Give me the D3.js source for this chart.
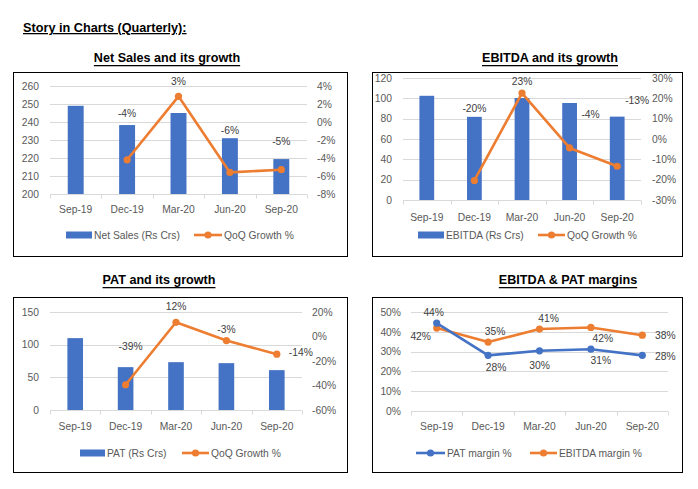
<!DOCTYPE html>
<html><head><meta charset="utf-8">
<script src="https://cdn.jsdelivr.net/npm/d3@7"></script>
<style>
html,body{margin:0;padding:0;background:#fff;}
svg{display:block;font-family:"Liberation Sans",Arial,sans-serif;}
</style></head>
<body>
<svg id="chart" width="698" height="489"></svg>
<script>
// ---------- DATA ----------
const quarters = ["Sep-19","Dec-19","Mar-20","Jun-20","Sep-20"];
const netSales = [249, 238.3, 245, 231, 219.4];
const netSalesGrowth = [null, -4.2, 2.85, -5.6, -5.3];
const ebitda = [102.5, 81.8, 100.3, 95.4, 82];
const ebitdaGrowth = [null, -20.4, 22.6, -4.4, -13.4];
const pat = [110, 65.6, 73.2, 71.7, 61];
const patGrowth = [null, -39.4, 11.6, -3.3, -14.4];
const patMargin = [44.4, 28.1, 30.4, 31.2, 28.1];
const ebitdaMargin = [41.9, 34.8, 41.4, 42.2, 38.3];
const netSalesTicks = [200,210,220,230,240,250,260];
const netGrowthTicks = [-8,-6,-4,-2,0,2,4];
const ebitdaTicks = [0,20,40,60,80,100,120];
const ebitdaGrowthTicks = [-30,-20,-10,0,10,20,30];
const patTicks = [0,50,100,150];
const patGrowthTicks = [-60,-40,-20,0,20];
const marginTicks = [0,10,20,30,40,50];

const BLUE = "#4472C4", ORANGE = "#ED7D31", GRID = "#D9D9D9", TICKC = "#595959", LBL = "#404040";
const FS = 10.3;
const svg = d3.select("#chart");

// page title
const title = svg.append("text").attr("x",23).attr("y",32).attr("font-size",12.7).attr("font-weight","bold")
  .attr("fill","#000").attr("text-decoration","underline").text("Story in Charts (Quarterly):");

function panelTitle(t, cx, cy){
  svg.append("text").attr("x",cx).attr("y",cy).attr("text-anchor","middle").attr("dominant-baseline","central")
    .attr("font-size",12.6).attr("font-weight","bold").attr("text-decoration","underline").attr("fill","#000").text(t);
}

function panel(cfg){
  const g = svg.append("g");
  g.append("rect").attr("x",cfg.box[0]+0.5).attr("y",cfg.box[1]+0.5)
    .attr("width",cfg.box[2]-cfg.box[0]).attr("height",cfg.box[3]-cfg.box[1])
    .attr("fill","#fff").attr("stroke","#000").attr("stroke-width",1);
  const [x0,x1,y0,y1] = cfg.plot; // y0 top, y1 bottom
  const x = d3.scaleBand().domain(quarters).range([x0,x1]).paddingInner(0).paddingOuter(0);
  const yL = d3.scaleLinear().domain(cfg.leftDomain).range([y1,y0]);
  // gridlines
  g.selectAll(".grid").data(cfg.leftTicks.filter(t=>t!==cfg.leftDomain[0])).enter().append("line")
    .attr("x1",x0).attr("x2",x1).attr("y1",d=>Math.round(yL(d))+0.5).attr("y2",d=>Math.round(yL(d))+0.5)
    .attr("stroke",GRID).attr("stroke-width",1);
  // left axis labels
  const axL = d3.axisLeft(yL).tickValues(cfg.leftTicks).tickSize(0).tickPadding(0).tickFormat(cfg.leftFmt);
  const gL = g.append("g").attr("transform",`translate(${cfg.leftLabelX},0)`).call(axL);
  gL.select(".domain").remove();
  gL.selectAll("text").attr("font-size",FS).attr("fill",TICKC).attr("font-family","Liberation Sans, Arial, sans-serif");
  // right axis
  let yR = null;
  if (cfg.rightDomain){
    yR = d3.scaleLinear().domain(cfg.rightDomain).range([y1,y0]);
    const axR = d3.axisRight(yR).tickValues(cfg.rightTicks).tickSize(0).tickPadding(0).tickFormat(d=>d+"%");
    const gR = g.append("g").attr("transform",`translate(${cfg.rightLabelX},0)`).call(axR);
    gR.select(".domain").remove();
    gR.selectAll("text").attr("font-size",FS).attr("fill",TICKC).attr("font-family","Liberation Sans, Arial, sans-serif");
  }
  // bars
  if (cfg.bars){
    const bw = x.bandwidth()*0.31;
    g.selectAll(".bar").data(cfg.bars).enter().append("rect")
      .attr("x",(d,i)=>x(quarters[i])+x.bandwidth()/2-bw/2)
      .attr("width",bw)
      .attr("y",d=>yL(d)).attr("height",d=>yL(cfg.leftDomain[0])-yL(d))
      .attr("fill",BLUE);
  }
  // x axis line + ticks
  const axB = d3.axisBottom(x).tickSize(0).tickPadding(0).tickFormat("");
  const yb = Math.round(y1)+0.5;
  g.append("line").attr("x1",x0).attr("x2",x1).attr("y1",yb).attr("y2",yb).attr("stroke",GRID);
  const bounds = quarters.map(q=>x(q)).concat([x1]);
  g.selectAll(".xt").data(bounds).enter().append("line")
    .attr("x1",d=>Math.round(d)+0.5).attr("x2",d=>Math.round(d)+0.5).attr("y1",yb).attr("y2",yb+4).attr("stroke",GRID);
  g.selectAll(".xl").data(quarters).enter().append("text")
    .attr("x",d=>x(d)+x.bandwidth()/2).attr("y",cfg.xLabelY).attr("text-anchor","middle").attr("dominant-baseline","central")
    .attr("font-size",FS).attr("fill",TICKC).text(d=>d);
  // lines
  cfg.lines.forEach(L=>{
    const ys = L.axis==="right" ? yR : yL;
    const pts = L.values.map((v,i)=>({v,i})).filter(p=>p.v!==null);
    const line = d3.line().x(p=>x(quarters[p.i])+x.bandwidth()/2).y(p=>ys(p.v));
    g.append("path").attr("d",line(pts)).attr("fill","none").attr("stroke",L.color).attr("stroke-width",2.6).attr("stroke-linejoin","round");
    g.selectAll(null).data(pts).enter().append("circle")
      .attr("cx",p=>x(quarters[p.i])+x.bandwidth()/2).attr("cy",p=>ys(p.v)).attr("r",3.6).attr("fill",L.color);
    g.selectAll(null).data(pts).enter().append("text")
      .attr("x",(p,k)=>x(quarters[p.i])+x.bandwidth()/2+L.nudge[k][0])
      .attr("y",(p,k)=>ys(p.v)+L.nudge[k][1])
      .attr("text-anchor","middle").attr("dominant-baseline","central")
      .attr("font-size",FS).attr("fill",LBL).text(p=>Math.round(p.v)+"%");
  });
  // legend
  cfg.legend.forEach(it=>{
    if (it.type==="bar"){
      g.append("rect").attr("x",it.x).attr("y",cfg.legendY-3.5).attr("width",it.w).attr("height",7).attr("fill",BLUE);
    } else {
      g.append("line").attr("x1",it.x).attr("x2",it.x+it.w).attr("y1",cfg.legendY).attr("y2",cfg.legendY)
        .attr("stroke",it.color).attr("stroke-width",2.6);
      g.append("circle").attr("cx",it.x+it.w/2).attr("cy",cfg.legendY).attr("r",3.6).attr("fill",it.color);
    }
    g.append("text").attr("x",it.x+it.w+2).attr("y",cfg.legendY).attr("dominant-baseline","central")
      .attr("font-size",FS).attr("fill",TICKC).text(it.label);
  });
}

panelTitle("Net Sales and its growth",167,58);
panel({
  box:[13,72,347,256], plot:[50,307,86,194],
  leftDomain:[200,260], leftTicks:netSalesTicks, leftFmt:d=>d, leftLabelX:39,
  rightDomain:[-8,4], rightTicks:netGrowthTicks, rightLabelX:317,
  bars:netSales, xLabelY:209,
  lines:[{values:netSalesGrowth, axis:"right", color:ORANGE, nudge:[[0,-46],[0,-15],[0,-42],[0,-28]]}],
  legendY:235,
  legend:[{type:"bar",x:66,w:26,label:"Net Sales (Rs Crs)"},{type:"line",x:194,w:28,color:ORANGE,label:"QoQ Growth %"}]
});

panelTitle("EBITDA and its growth",550,58);
panel({
  box:[372,72,682,256], plot:[403,641,78,200],
  leftDomain:[0,120], leftTicks:ebitdaTicks, leftFmt:d=>d, leftLabelX:392,
  rightDomain:[-30,30], rightTicks:ebitdaGrowthTicks, rightLabelX:652,
  bars:ebitda, xLabelY:217,
  lines:[{values:ebitdaGrowth, axis:"right", color:ORANGE, nudge:[[0,-72],[0,-12],[21,-33],[20,-66]]}],
  legendY:235,
  legend:[{type:"bar",x:418,w:26,label:"EBITDA (Rs Crs)"},{type:"line",x:538,w:27,color:ORANGE,label:"QoQ Growth %"}]
});

panelTitle("PAT and its growth",159,280);
panel({
  box:[13,297,347,472], plot:[50,302,312,410],
  leftDomain:[0,150], leftTicks:patTicks, leftFmt:d=>d, leftLabelX:39,
  rightDomain:[-60,20], rightTicks:patGrowthTicks, rightLabelX:312,
  bars:pat, xLabelY:426,
  lines:[{values:patGrowth, axis:"right", color:ORANGE, nudge:[[5,-38],[0,-16],[0,-11],[24,-2]]}],
  legendY:453,
  legend:[{type:"bar",x:80,w:25,label:"PAT (Rs Crs)"},{type:"line",x:182,w:27,color:ORANGE,label:"QoQ Growth %"}]
});

panelTitle("EBITDA & PAT margins",568,280);
panel({
  box:[372,297,682,472], plot:[411,668,312,411],
  leftDomain:[0,50], leftTicks:marginTicks, leftFmt:d=>d+"%", leftLabelX:401,
  rightDomain:null,
  bars:null, xLabelY:426,
  lines:[
    {values:ebitdaMargin, axis:"left", color:ORANGE, nudge:[[-16,8],[7,-11],[9,-11],[12,11],[23,0]]},
    {values:patMargin, axis:"left", color:BLUE, nudge:[[-3,-11],[8,12],[0,15],[10,11],[23,1]]}
  ],
  legendY:453,
  legend:[{type:"line",x:416,w:29,color:BLUE,label:"PAT margin %"},{type:"line",x:530,w:27,color:ORANGE,label:"EBITDA margin %"}]
});
</script>
</body></html>
